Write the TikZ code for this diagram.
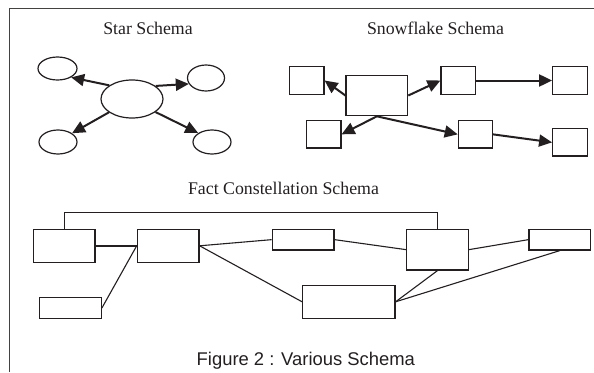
\documentclass[tikz,border=0pt]{standalone}
\usepackage{fontspec}
\setmainfont{Liberation Serif}
\newfontfamily\capfont{Liberation Sans}
\usetikzlibrary{shapes.geometric,arrows.meta}
\definecolor{ink}{HTML}{231F20}
\tikzset{
  oval/.style={draw=ink, line width=1.2pt, ellipse, inner sep=0pt},
  tbl/.style={draw=ink, line width=1.2pt, rectangle, inner sep=0pt},
  arr/.style={draw=ink, line width=2pt, -{Triangle[length=13pt,width=12pt]}},
  link/.style={draw=ink, line width=1.1pt},
  heavylink/.style={draw=ink, line width=2pt},
  title/.style={anchor=base, text=ink, font=\fontsize{17.8}{20}\selectfont, inner sep=0pt},
}
\begin{document}
\begin{tikzpicture}[x=1pt, y=-1pt]
\useasboundingbox (0,0) rectangle (594,372);
% frame
\draw[draw=ink!85, line width=1pt] (9,372) -- (9,8) -- (594,8);

% ---- star schema ----
\node[title] (startitle) at (148,34) {Star Schema};
\node[oval, minimum width=62pt, minimum height=38pt] (fact) at (132,99) {};
\node[oval, minimum width=39pt, minimum height=23pt] (d1) at (57.5,68.5) {};
\node[oval, minimum width=37pt, minimum height=26pt] (d2) at (206,78) {};
\node[oval, minimum width=38pt, minimum height=24pt] (d3) at (58,142) {};
\node[oval, minimum width=38pt, minimum height=24pt] (d4) at (212,142) {};
\draw[arr] (fact.149) -- (d1.-33);
\draw[arr] (fact.29.5) -- (d2.199.7);
\draw[arr] (fact.210.6) -- (d3.32.7);
\draw[arr] (fact.-29.5) -- (d4.147.3);

% ---- snowflake schema ----
\node[title] (snowtitle) at (435.5,34) {Snowflake Schema};
\node[tbl, minimum width=61.7pt, minimum height=40.4pt] (sc) at (376.85,95.5) {};
\node[tbl, minimum width=34.7pt, minimum height=27.6pt] (s1) at (306.65,80.5) {};
\node[tbl, minimum width=34.3pt, minimum height=27.6pt] (s2) at (458.15,80.5) {};
\node[tbl, minimum width=34.6pt, minimum height=27.6pt] (s3) at (570,80.5) {};
\node[tbl, minimum width=34.3pt, minimum height=27.3pt] (s4) at (323.85,134.35) {};
\node[tbl, minimum width=34pt, minimum height=27.3pt] (s5) at (475.3,134.35) {};
\node[tbl, minimum width=34.6pt, minimum height=27.3pt] (s6) at (570,142.35) {};
\draw[arr] (sc.west) -- (s1.east);
\draw[arr] (sc.east) -- (s2.west);
\draw[arr] (s2.east) -- (s3.west);
\draw[arr] (sc.south) -- (s4.east);
\draw[arr] (sc.south) -- (s5.west);
\draw[arr] (s5.east) -- (s6.west);

% ---- fact constellation schema ----
\node[title] (facttitle) at (283.5,194) {Fact Constellation Schema};
\node[tbl, minimum width=61.7pt, minimum height=33pt] (fa) at (64.15,245.8) {};
\node[tbl, minimum width=61.7pt, minimum height=33pt] (fb) at (168.15,245.8) {};
\node[tbl, minimum width=62pt, minimum height=20.6pt] (fc) at (70.3,308) {};
\node[tbl, minimum width=61.7pt, minimum height=20.7pt] (fd) at (303.15,239.65) {};
\node[tbl, minimum width=92.3pt, minimum height=33pt] (fe) at (348.85,301.8) {};
\node[tbl, minimum width=61.6pt, minimum height=40.7pt] (ff) at (437.5,249.65) {};
\node[tbl, minimum width=61.7pt, minimum height=20.7pt] (fg) at (559.85,239.65) {};
\draw[link] (fa.north) -- ++(0,-16) -| (ff.north);
\draw[heavylink] (fa.east) -- (fb.west);
\draw[link] (fc.east) -- (fb.west);
\draw[link] (fb.east) -- (fd.west);
\draw[link] (fb.east) -- (fe.west);
\draw[link] (fd.east) -- (ff.west);
\draw[link] (ff.east) -- (fg.west);
\draw[link] (ff.south) -- (fe.east);
\draw[link] (fg.south) -- (fe.east);

% caption
\node[anchor=base, inner sep=0pt, text=ink, font=\capfont\fontsize{18.4}{21}\selectfont] (caption) at (305.8,365) {Figure 2 : Various Schema};
\end{tikzpicture}
\end{document}
